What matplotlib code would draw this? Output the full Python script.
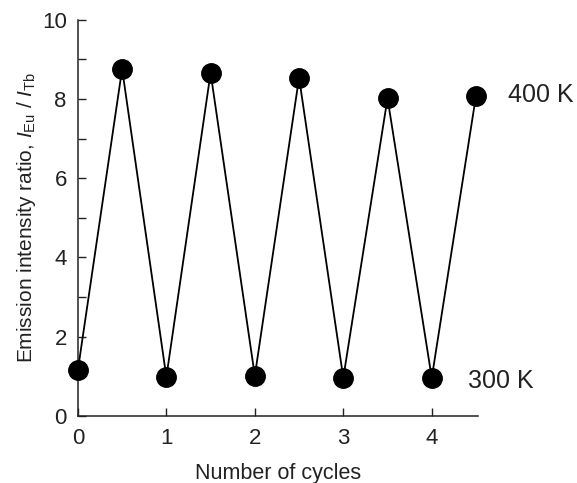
import matplotlib.pyplot as plt

plt.rcParams['font.family'] = ['Liberation Sans', 'DejaVu Sans']
plt.rcParams['mathtext.fontset'] = 'custom'
plt.rcParams['mathtext.rm'] = 'Liberation Sans'
plt.rcParams['mathtext.it'] = 'Liberation Sans:italic'

# cycle position (half cycles alternate 300 K / 400 K) and I_Eu / I_Tb ratio
cycles = [0, 0.5, 1, 1.5, 2, 2.5, 3, 3.5, 4, 4.5]
ratio = [1.16, 8.76, 0.98, 8.66, 1.01, 8.54, 0.96, 8.02, 0.96, 8.08]
x_ticks = [0, 1, 2, 3, 4]
y_ticks = [0, 2, 4, 6, 8, 10]

fig = plt.figure(figsize=(5.77, 4.83), dpi=100)
ax = fig.add_axes([0.135, 0.139, 0.693, 0.82])

ax.plot(cycles, ratio, color='black', linewidth=1.3, marker='o',
        markersize=14, markerfacecolor='black', clip_on=False, zorder=3)

ax.set_xlim(0, 4.52)
ax.set_ylim(0, 10)
ax.set_xticks(x_ticks)
ax.set_yticks(y_ticks)
ax.set_yticks(range(1, 10, 2), minor=True)
ax.tick_params(axis='both', which='both', direction='in', labelsize=16,
               width=1, colors='#222222')
ax.tick_params(axis='x', which='major', length=6, pad=9)
ax.tick_params(axis='y', which='major', length=6, pad=8)
ax.tick_params(axis='y', which='minor', length=6)

for side in ('top', 'right'):
    ax.spines[side].set_visible(False)
for side in ('left', 'bottom'):
    ax.spines[side].set_linewidth(1.1)
    ax.spines[side].set_color('#222222')

ax.set_xlabel('Number of cycles', fontsize=15.5, labelpad=10, color='#222222')
ax.set_ylabel(r'Emission intensity ratio, $I_{\mathrm{Eu}}$ / $I_{\mathrm{Tb}}$',
              fontsize=15, labelpad=3, color='#222222')

ax.text(4.86, 8.1, '400 K', fontsize=18, va='center', ha='left', color='#222222')
ax.text(4.41, 0.88, '300 K', fontsize=18, va='center', ha='left', color='#222222')

fig.savefig('out.png', dpi=100)
